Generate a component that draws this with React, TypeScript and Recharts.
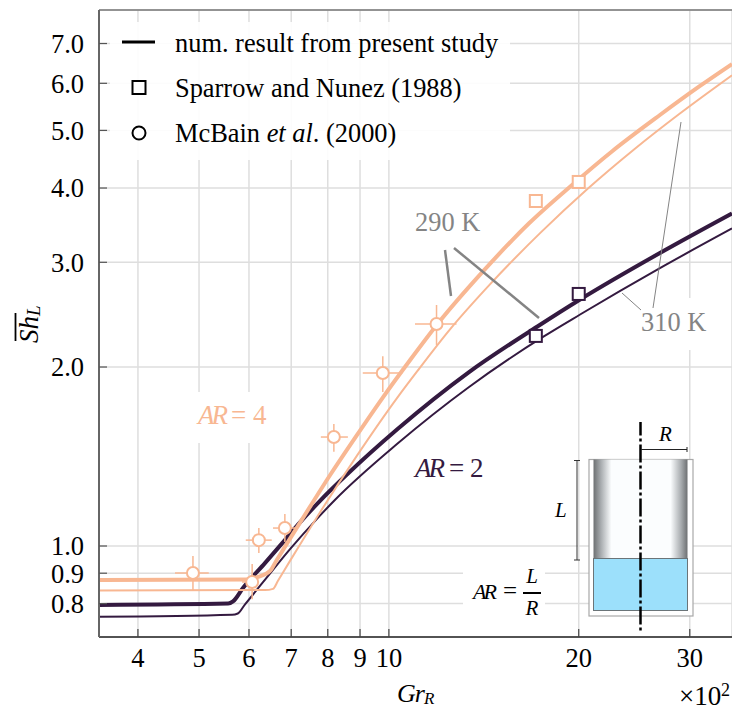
import { ComposedChart, Line, Scatter, ErrorBar, XAxis, YAxis, CartesianGrid, ReferenceLine } from "recharts";

const SERIF = "'Liberation Serif', 'Times New Roman', serif";
const PEACH = "#f8b792";
const DARK = "#341a40";
const GRAY = "#848484";

const xTicks = [4, 5, 6, 7, 8, 9, 10, 20, 30];
const yTicks = [0.8, 0.9, 1.0, 2.0, 3.0, 4.0, 5.0, 6.0, 7.0];

// AR=4
const ar4HotX = [3.47, 5.96, 6.2, 6.48, 6.62, 6.97, 7.5, 8.06, 8.87, 9.78, 10.8, 11.9, 14.1, 16.7, 19.5, 22.6, 26.9, 31.1, 35];
const ar4HotY = [0.877, 0.878, 0.887, 0.908, 0.942, 1.029, 1.165, 1.314, 1.529, 1.777, 2.053, 2.351, 2.896, 3.493, 4.044, 4.613, 5.307, 5.933, 6.464];
const ar4ColdX = [3.47, 6.36, 6.55, 6.67, 6.97, 7.69, 8.9, 10.3, 11.1, 12.5, 14.5, 17.4, 20.6, 24.5, 28.9, 35];
const ar4ColdY = [0.842, 0.843, 0.847, 0.874, 0.944, 1.118, 1.419, 1.773, 1.97, 2.314, 2.762, 3.365, 3.977, 4.649, 5.333, 6.191];

// AR=2
const ar2HotX = [3.47, 5.56, 5.66, 5.87, 6.36, 6.84, 7.17, 7.77, 8.58, 10.3, 13.4, 17.2, 20.1, 26.9, 35];
const ar2HotY = [0.796, 0.8, 0.807, 0.85, 0.936, 1.023, 1.085, 1.19, 1.319, 1.57, 1.961, 2.34, 2.598, 3.11, 3.625];
const ar2ColdX = [3.47, 5.64, 5.76, 5.91, 6.32, 6.97, 7.69, 8.21, 10.3, 13.4, 17.5, 20.1, 26.9, 35];
const ar2ColdY = [0.76, 0.766, 0.77, 0.797, 0.87, 0.988, 1.111, 1.195, 1.484, 1.851, 2.243, 2.451, 2.933, 3.42];

// Sparrow and Nunez
const sparrowX = [17.1, 20];
const sparrowAr4 = [3.804, 4.095];
const sparrowAr2 = [2.256, 2.654];

// McBain et al.
const mcbainX = [4.89, 6.07, 6.22, 6.84, 8.18, 9.78, 11.9];
const mcbainY = [0.901, 0.87, 1.023, 1.072, 1.525, 1.954, 2.363];
const mcbainXLo = [4.58, 5.85, 5.93, 6.55, 7.8, 9.09, 11.0];
const mcbainXHi = [5.18, 6.2, 6.52, 7.15, 8.61, 10.5, 12.8];
const mcbainYLo = [0.84, 0.814, 0.973, 1.016, 1.44, 1.816, 2.178];
const mcbainYHi = [0.962, 0.933, 1.072, 1.132, 1.604, 2.086, 2.543];

const zip = (xs: number[], ys: number[]) => xs.map((x, i) => ({ x, y: ys[i] }));

const mcbain = mcbainX.map((x, i) => ({
  x,
  y: mcbainY[i],
  ex: [x - mcbainXLo[i], mcbainXHi[i] - x],
  ey: [mcbainY[i] - mcbainYLo[i], mcbainYHi[i] - mcbainY[i]],
}));

const squareShape = (color: string) => (p: any) => (
  <rect x={p.cx - 6} y={p.cy - 6} width={12} height={12} fill="#fff" stroke={color} strokeWidth={2} />
);
const circleShape = (p: any) => <circle cx={p.cx} cy={p.cy} r={6} fill="#fff" stroke={PEACH} strokeWidth={2} />;

function Overlay() {
  return (
    <svg width={732} height={711} style={{ position: "absolute", left: 0, top: 0, fontFamily: SERIF }}>
      <defs>
        <linearGradient id="wall" x1="0" x2="1" y1="0" y2="0">
          <stop offset="0" stopColor="#6d7072" />
          <stop offset="0.08" stopColor="#a9adb0" />
          <stop offset="0.19" stopColor="#fbfdfe" />
          <stop offset="0.82" stopColor="#fbfdfe" />
          <stop offset="0.93" stopColor="#a9adb0" />
          <stop offset="1" stopColor="#6d7072" />
        </linearGradient>
      </defs>

      {/* legend */}
      <rect x={110} y={22} width={400} height={138} fill="#fff" fillOpacity={0.9} />
      <line x1={122} x2={155} y1={42} y2={42} stroke="#000" strokeWidth={3} />
      <rect x={132.5} y={81} width={13} height={13} fill="#fff" stroke="#000" strokeWidth={2} />
      <circle cx={139} cy={133} r={6.5} fill="#fff" stroke="#000" strokeWidth={2} />
      <text x={175} y={52} fontSize={26.4}>num. result from present study</text>
      <text x={175} y={97} fontSize={26.4}>Sparrow and Nunez (1988)</text>
      <text x={175} y={142} fontSize={26.4}>
        McBain <tspan fontStyle="italic">et al</tspan>. (2000)
      </text>

      {/* text halos */}
      <rect x={190} y={392} width={85} height={51} fill="#fff" />
      <rect x={640} y={298} width={72} height={52} fill="#fff" />
      <rect x={463} y={565} width={82} height={50} fill="#fff" />

      <text y={424} fontSize={27} fill={PEACH}>
        <tspan x={198} fontStyle="italic" letterSpacing={-3}>AR</tspan>
        <tspan x={231}>=</tspan>
        <tspan x={253}>4</tspan>
      </text>
      <text y={477} fontSize={27} fill={DARK}>
        <tspan x={415} fontStyle="italic" letterSpacing={-3}>AR</tspan>
        <tspan x={449}>=</tspan>
        <tspan x={470}>2</tspan>
      </text>

      {/* temperature labels */}
      <text x={415} y={231} fontSize={26.4} fill={GRAY}>290 K</text>
      <line x1={445} y1={250} x2={451} y2={296} stroke={GRAY} strokeWidth={2.5} />
      <line x1={454} y1={248} x2={539} y2={318} stroke={GRAY} strokeWidth={2.5} />
      <text x={641} y={331} fontSize={26.4} fill={GRAY}>310 K</text>
      <line x1={681} y1={122} x2={653} y2={308} stroke={GRAY} strokeWidth={1} />
      <line x1={622} y1={293} x2={641} y2={310} stroke={GRAY} strokeWidth={1} />

      {/* inset */}
      <rect x={589} y={459.5} width={104} height={156.5} fill="#fff" stroke="#a8a8a8" strokeWidth={1.2} />
      <rect x={593.5} y={459.5} width={94} height={99} fill="url(#wall)" />
      <rect x={593.5} y={558.5} width={94} height={52} fill="#9ce0fb" stroke="#6b7478" strokeWidth={1} />
      <line x1={640.5} x2={640.5} y1={422} y2={631} stroke="#000" strokeWidth={2.5} strokeDasharray="18 3 3 3" strokeDashoffset={4.5} />
      <line x1={641} x2={687} y1={449.5} y2={449.5} stroke="#222" strokeWidth={1} />
      <line x1={687} x2={687} y1={447} y2={452} stroke="#222" strokeWidth={1} />
      <line x1={577} x2={577} y1={460} y2={560} stroke="#333" strokeWidth={1} />
      <line x1={574} x2={580} y1={460.5} y2={460.5} stroke="#333" strokeWidth={1} />
      <line x1={574} x2={580} y1={560} y2={560} stroke="#333" strokeWidth={1} />
      <text x={659} y={441} fontSize={21} fontStyle="italic">R</text>
      <text x={555} y={517} fontSize={21} fontStyle="italic">L</text>
      <text y={599} fontSize={22}>
        <tspan x={473} fontStyle="italic" letterSpacing={-3}>AR</tspan>
        <tspan x={503} fontSize={25}>=</tspan>
      </text>
      <text x={532} y={583} fontSize={21} fontStyle="italic" textAnchor="middle">L</text>
      <line x1={523} x2={541} y1={593} y2={593} stroke="#000" strokeWidth={2} />
      <text x={532} y={615} fontSize={21} fontStyle="italic" textAnchor="middle">R</text>

      {/* axis labels */}
      <text x={397} y={702} fontSize={26} fontStyle="italic" letterSpacing={-1}>
        Gr<tspan fontSize={17} dy={2} letterSpacing={0}>R</tspan>
      </text>
      <text y={705} fontSize={27}>
        <tspan x={679}>×10</tspan>
        <tspan x={721} y={696} fontSize={18}>2</tspan>
      </text>
      <g transform="translate(37.5,343) rotate(-90)">
        <text x={0} y={0} fontSize={27} fontStyle="italic">
          Sh<tspan fontSize={19} dy={2.5}>L</tspan>
        </text>
        <line x1={2} x2={30} y1={-22} y2={-22} stroke="#000" strokeWidth={1.8} />
      </g>
    </svg>
  );
}

export default function App() {
  return (
    <div style={{ position: "absolute", left: 0, top: 0, width: 732, height: 711 }}>
      <ComposedChart width={732} height={711} margin={{ top: 10, right: 0, bottom: 0, left: 0 }}>
        <CartesianGrid stroke="#dedede" strokeWidth={1.5} />
        <XAxis
          dataKey="x"
          type="number"
          scale="log"
          domain={[3.47, 35]}
          allowDataOverflow
          ticks={xTicks}
          height={74}
          tickSize={-8}
          tickMargin={19}
          interval={0}
          axisLine={{ stroke: "#222", strokeWidth: 1.5 }}
          tickLine={{ stroke: "#444", strokeWidth: 1.2 }}
          tick={{ fontSize: 26.5, fill: "#000", fontFamily: SERIF }}
        />
        <YAxis
          dataKey="y"
          type="number"
          scale="log"
          domain={[0.703, 7.97]}
          allowDataOverflow
          ticks={yTicks}
          width={99}
          tickSize={-8}
          tickMargin={23}
          interval={0}
          tickFormatter={(v: number) => v.toFixed(1)}
          axisLine={{ stroke: "#666", strokeWidth: 2 }}
          tickLine={{ stroke: "#555", strokeWidth: 1.2 }}
          tick={{ fontSize: 26.5, fill: "#000", fontFamily: SERIF }}
        />
        <ReferenceLine y={7.97} stroke="#777" strokeWidth={1.5} />
        <Line data={zip(ar2ColdX, ar2ColdY)} dataKey="y" type="monotone" stroke={DARK} strokeWidth={2} dot={false} isAnimationActive={false} />
        <Line data={zip(ar2HotX, ar2HotY)} dataKey="y" type="monotone" stroke={DARK} strokeWidth={4} dot={false} isAnimationActive={false} />
        <Line data={zip(ar4ColdX, ar4ColdY)} dataKey="y" type="monotone" stroke={PEACH} strokeWidth={2} dot={false} isAnimationActive={false} />
        <Line data={zip(ar4HotX, ar4HotY)} dataKey="y" type="monotone" stroke={PEACH} strokeWidth={4} dot={false} isAnimationActive={false} />
        <Scatter data={mcbain} dataKey="y" shape={circleShape} isAnimationActive={false}>
          <ErrorBar dataKey="ex" direction="x" width={0} stroke={PEACH} strokeWidth={1.5} isAnimationActive={false} />
          <ErrorBar dataKey="ey" direction="y" width={0} stroke={PEACH} strokeWidth={1.5} isAnimationActive={false} />
        </Scatter>
        <Scatter data={zip(sparrowX, sparrowAr4)} dataKey="y" shape={squareShape(PEACH)} isAnimationActive={false} />
        <Scatter data={zip(sparrowX, sparrowAr2)} dataKey="y" shape={squareShape(DARK)} isAnimationActive={false} />
      </ComposedChart>
      <Overlay />
    </div>
  );
}
